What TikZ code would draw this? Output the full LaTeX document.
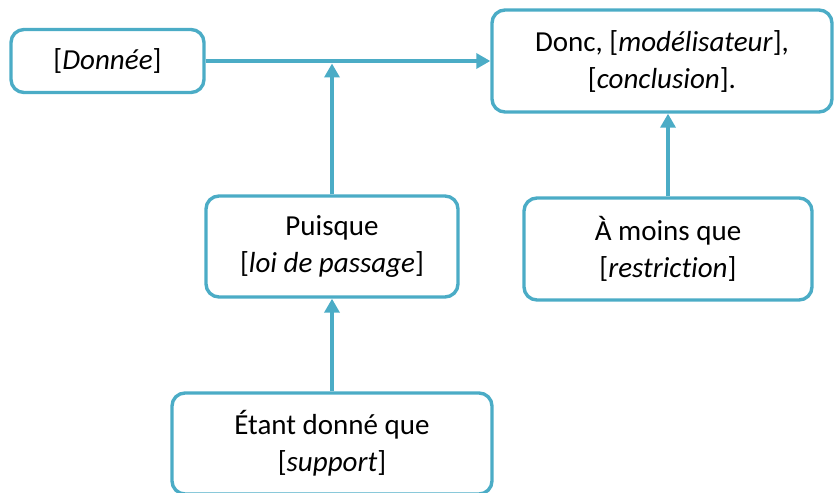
\documentclass[tikz,border=0pt]{standalone}
\usepackage{fontspec}
\setmainfont{Carlito}[Ligatures=NoCommon]
\usetikzlibrary{arrows.meta}
\definecolor{accent}{RGB}{75,172,198}
\begin{document}
\begin{tikzpicture}[x=1pt,y=-1pt,
  box/.style={draw=accent,line width=3.4pt,rounded corners=13pt,align=center,
    inner sep=0pt,font=\fontsize{29}{37}\selectfont},
  conn/.style={draw=accent,line width=3.4pt,-{Triangle[width=15pt,length=14pt]}}]
\useasboundingbox (0,0) rectangle (834,492);
\clip (0,0) rectangle (834,492);
\node[box,minimum width=193pt,minimum height=63pt] (don) at (107.5,61) {{[}\textit{Donnée}]};
\node[box,minimum width=340pt,minimum height=102pt] (conc) at (662,61) {Donc, [\textit{modélisateur}],\\{[}\textit{conclusion}].};
\node[box,minimum width=252pt,minimum height=101pt] (puis) at (332,246.5) {Puisque\\{[}\textit{loi de passage}]};
\node[box,minimum width=288pt,minimum height=102pt] (restr) at (668,249) {À moins que\\{[}\textit{restriction}]};
\node[box,minimum width=320pt,minimum height=101pt] (etant) at (332,443.5) {Étant donné que\\{[}\textit{support}]};
\coordinate (j) at (332,61);
\draw[conn] (don.east) -- (don.east -| conc.west);
\draw[conn,shorten >=2.5pt] (puis.north) -- (j);
\draw[conn] (etant.north) -- (puis.south);
\draw[conn] (restr.north) -- (restr.north |- conc.south);
\end{tikzpicture}
\end{document}
